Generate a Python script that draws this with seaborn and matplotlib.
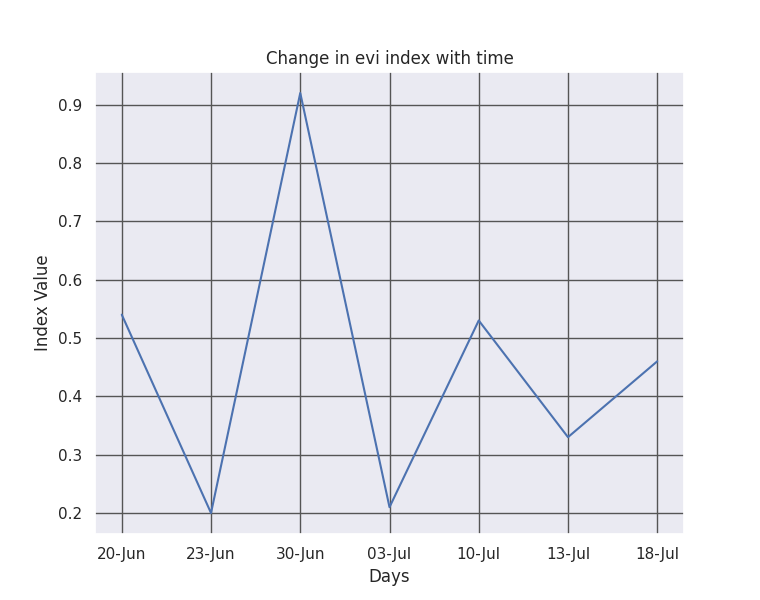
import matplotlib
matplotlib.use("Agg")
import matplotlib.pyplot as plt
import seaborn as sns
import pandas as pd

days = ["20-Jun", "23-Jun", "30-Jun", "03-Jul", "10-Jul", "13-Jul", "18-Jul"]
evi = [0.54, 0.20, 0.92, 0.21, 0.53, 0.33, 0.46]

sns.set_theme(style="darkgrid")

df = pd.DataFrame({"Days": days, "Index Value": evi})

fig, ax = plt.subplots(figsize=(7.6, 6), dpi=100)
sns.lineplot(data=df, x="Days", y="Index Value", ax=ax, sort=False)
ax.grid(True, color="#555555", linewidth=1.0)
ax.set_title("Change in evi index with time")
ax.set_xlabel("Days")
ax.set_ylabel("Index Value")

fig.savefig("out.png", dpi=100)
